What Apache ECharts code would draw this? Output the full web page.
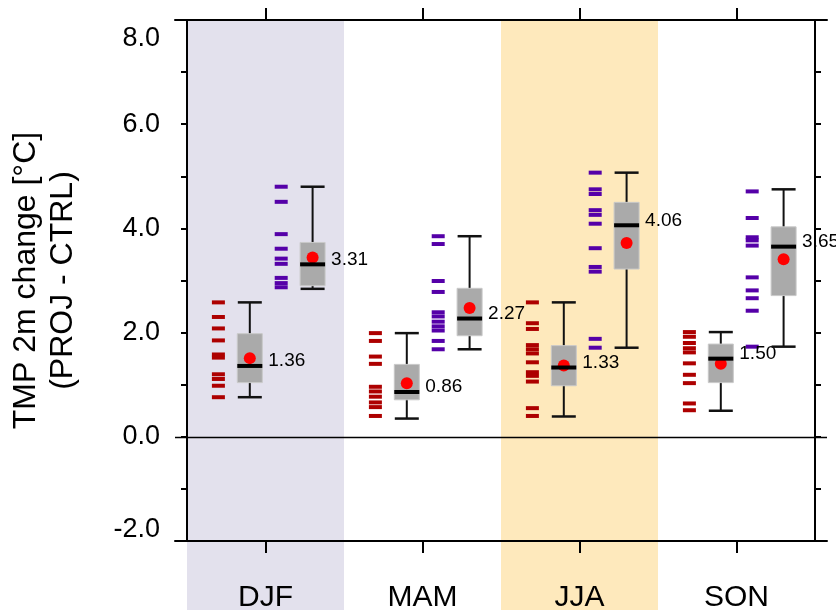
<!DOCTYPE html>
<html>
<head>
<meta charset="utf-8">
<script src="https://cdn.jsdelivr.net/npm/echarts@6/dist/echarts.min.js"></script>
<style>
  html, body { margin: 0; padding: 0; background: #fff; }
  #chart { width: 836px; height: 610px; }
</style>
</head>
<body>
<div id="chart"></div>
<script>
  /** Data */
  var seasons = ['DJF', 'MAM', 'JJA', 'SON'];
  var shadedSeasons = ['DJF', 'JJA'];

  // ensemble members (red = lower group, purple = upper group)
  var redMembers = [
    [2.58, 2.30, 2.08, 1.85, 1.58, 1.52, 1.20, 1.11, 0.98, 0.76],
    [1.99, 1.84, 1.54, 1.40, 0.96, 0.87, 0.77, 0.66, 0.57, 0.40],
    [2.58, 2.18, 2.07, 1.76, 1.68, 1.60, 1.43, 1.24, 1.17, 1.06, 0.55, 0.40],
    [2.01, 1.92, 1.80, 1.70, 1.62, 1.41, 1.19, 1.03, 0.64, 0.51]
  ];
  var purpleMembers = [
    [4.80, 4.51, 3.89, 3.61, 3.42, 3.32, 3.05, 2.95, 2.87],
    [3.85, 3.70, 2.99, 2.78, 2.39, 2.31, 2.21, 2.12, 2.04, 1.84, 1.68],
    [5.07, 4.75, 4.66, 4.35, 4.26, 4.09, 3.62, 3.26, 3.17, 1.88, 1.71],
    [4.71, 4.20, 3.83, 3.77, 3.67, 3.06, 2.81, 2.66, 2.42, 1.73]
  ];

  // box stats: [min, q1, median, q3, max]
  var redBox = [
    [0.76, 1.04, 1.36, 1.98, 2.58],
    [0.35, 0.71, 0.86, 1.39, 1.99],
    [0.39, 0.98, 1.33, 1.75, 2.58],
    [0.50, 1.04, 1.50, 1.78, 2.01]
  ];
  var purpleBox = [
    [2.84, 2.90, 3.31, 3.73, 4.80],
    [1.68, 1.94, 2.27, 2.85, 3.85],
    [1.71, 3.22, 4.06, 4.50, 5.07],
    [1.73, 2.71, 3.65, 4.03, 4.75]
  ];
  var redMean = [1.51, 1.03, 1.37, 1.40];
  var purpleMean = [3.44, 2.47, 3.72, 3.41];

  var yMin = -2, yMax = 8;

  /** Helpers */
  var FONT = '"Liberation Sans", Arial, Helvetica, sans-serif';
  var EXT = 12 / 157; // axis lines run a little past the frame
  var seasonTicks = seasons.map(function (s, i) { return i + 0.5; });

  function memberData(list) {
    var out = [];
    list.forEach(function (vals, i) {
      vals.forEach(function (v) { out.push([i, v]); });
    });
    return out;
  }

  function boxData(box, mean) {
    return box.map(function (b, i) { return [i].concat(b, [mean[i]]); });
  }

  function dashRender(offset, color) {
    return function (params, api) {
      var p = api.coord([api.value(0) + 0.5 + offset, api.value(1)]);
      return {
        type: 'rect',
        shape: { x: p[0] - 6.5, y: p[1] - 2, width: 13, height: 4 },
        style: { fill: color }
      };
    };
  }

  function boxRender(offset) {
    return function (params, api) {
      var x = api.value(0) + 0.5 + offset;
      var c = function (k) { return api.coord([x, api.value(k)]); };
      var lo = c(1), q1 = c(2), md = c(3), q3 = c(4), hi = c(5), mn = c(6);
      var cx = lo[0], hw = 12.5, cw = 12;
      var ink = '#111';
      return {
        type: 'group',
        children: [
          { type: 'line', shape: { x1: cx, y1: lo[1], x2: cx, y2: hi[1] }, style: { stroke: ink, lineWidth: 2 } },
          { type: 'line', shape: { x1: cx - cw, y1: lo[1], x2: cx + cw, y2: lo[1] }, style: { stroke: ink, lineWidth: 2.5 } },
          { type: 'line', shape: { x1: cx - cw, y1: hi[1], x2: cx + cw, y2: hi[1] }, style: { stroke: ink, lineWidth: 2.5 } },
          { type: 'rect', shape: { x: cx - hw, y: q3[1], width: hw * 2, height: q1[1] - q3[1] },
            style: { fill: '#AAAAAA', stroke: '#C9C9C9', lineWidth: 1 } },
          { type: 'circle', shape: { cx: cx, cy: mn[1], r: 6 }, style: { fill: '#FF0000' } },
          { type: 'line', shape: { x1: cx - hw, y1: md[1], x2: cx + hw, y2: md[1] }, style: { stroke: '#000', lineWidth: 4 } },
          { type: 'text', x: cx + hw + 6, y: md[1] - 5,
            style: { text: api.value(3).toFixed(2), fill: '#000', font: '19px ' + FONT, align: 'left', verticalAlign: 'middle' } }
        ]
      };
    };
  }

  var bandColors = { DJF: '#E3E1ED', JJA: '#FEE9BC' };

  /** Chart */
  var chart = echarts.init(document.getElementById('chart'));
  var option = {
    animation: false,
    grid: { left: 175, right: 9, top: 20, bottom: 69, outerBoundsMode: 'none' },
    xAxis: [
      {
        type: 'value', position: 'bottom', min: -EXT, max: 4 + EXT, z: 5,
        splitLine: { show: false },
        axisLine: { onZero: false, lineStyle: { color: '#000', width: 2 } },
        axisTick: { customValues: seasonTicks, length: 12, lineStyle: { color: '#000', width: 2 } },
        axisLabel: {
          customValues: seasonTicks, margin: 42, color: '#000', fontSize: 30, fontFamily: FONT,
          formatter: function (v) { return seasons[Math.floor(v)]; }
        }
      },
      {
        type: 'value', position: 'top', min: -EXT, max: 4 + EXT, z: 5,
        splitLine: { show: false },
        axisLine: { onZero: false, lineStyle: { color: '#000', width: 2 } },
        axisTick: { customValues: seasonTicks, length: 12, lineStyle: { color: '#000', width: 2 } },
        axisLabel: { show: false }
      }
    ],
    yAxis: [
      {
        type: 'value', position: 'left', offset: -12, min: yMin, max: yMax, interval: 1, z: 5,
        splitLine: { show: false },
        axisLine: { onZero: false, lineStyle: { color: '#000', width: 2 } },
        axisTick: { length: 6, lineStyle: { color: '#000', width: 2 } },
        axisLabel: {
          margin: 27, color: '#000', fontSize: 27, fontFamily: FONT,
          formatter: function (v) {
            if (v % 2 !== 0) return '';
            if (v === yMax) return '{t|' + v.toFixed(1) + '}';
            if (v === yMin) return '{b|' + v.toFixed(1) + '}';
            return v.toFixed(1);
          },
          rich: {
            t: { fontSize: 27, fontFamily: FONT, color: '#000', padding: [38, 0, 0, 0] },
            b: { fontSize: 27, fontFamily: FONT, color: '#000', padding: [0, 0, 22, 0] }
          }
        },
        name: 'TMP 2m change [°C]\n(PROJ - CTRL)',
        nameLocation: 'middle', nameRotate: 90, nameGap: 105,
        nameTextStyle: { color: '#000', fontSize: 32, lineHeight: 37, fontFamily: FONT }
      },
      {
        type: 'value', position: 'right', offset: -12, min: yMin, max: yMax, interval: 1, z: 5,
        splitLine: { show: false },
        axisLine: { onZero: false, lineStyle: { color: '#000', width: 2 } },
        axisTick: { length: 6, lineStyle: { color: '#000', width: 2 } },
        axisLabel: { show: false }
      }
    ],
    series: [
      {
        type: 'custom', z: 1, clip: false, silent: true,
        data: shadedSeasons.map(function (s) { return [seasons.indexOf(s)]; }),
        renderItem: function (params, api) {
          var i = api.value(0);
          var a = api.coord([i, yMax]), b = api.coord([i + 1, yMax]);
          return {
            type: 'rect',
            shape: { x: a[0], y: a[1], width: b[0] - a[0], height: api.getHeight() - a[1] },
            style: { fill: bandColors[seasons[i]] }
          };
        }
      },
      {
        type: 'custom', z: 3, clip: false, silent: true,
        data: memberData(redMembers),
        renderItem: dashRender(-0.3, '#AD0000'),
        markLine: {
          silent: true, symbol: 'none', label: { show: false },
          lineStyle: { color: '#000', width: 1.3, type: 'solid' },
          data: [{ yAxis: 0 }]
        }
      },
      {
        type: 'custom', z: 3, clip: false, silent: true,
        data: memberData(purpleMembers),
        renderItem: dashRender(0.1, '#5500A8')
      },
      {
        type: 'custom', z: 4, clip: false, silent: true,
        data: boxData(redBox, redMean),
        renderItem: boxRender(-0.1)
      },
      {
        type: 'custom', z: 4, clip: false, silent: true,
        data: boxData(purpleBox, purpleMean),
        renderItem: boxRender(0.3)
      }
    ]
  };
  chart.setOption(option);
</script>
</body>
</html>
